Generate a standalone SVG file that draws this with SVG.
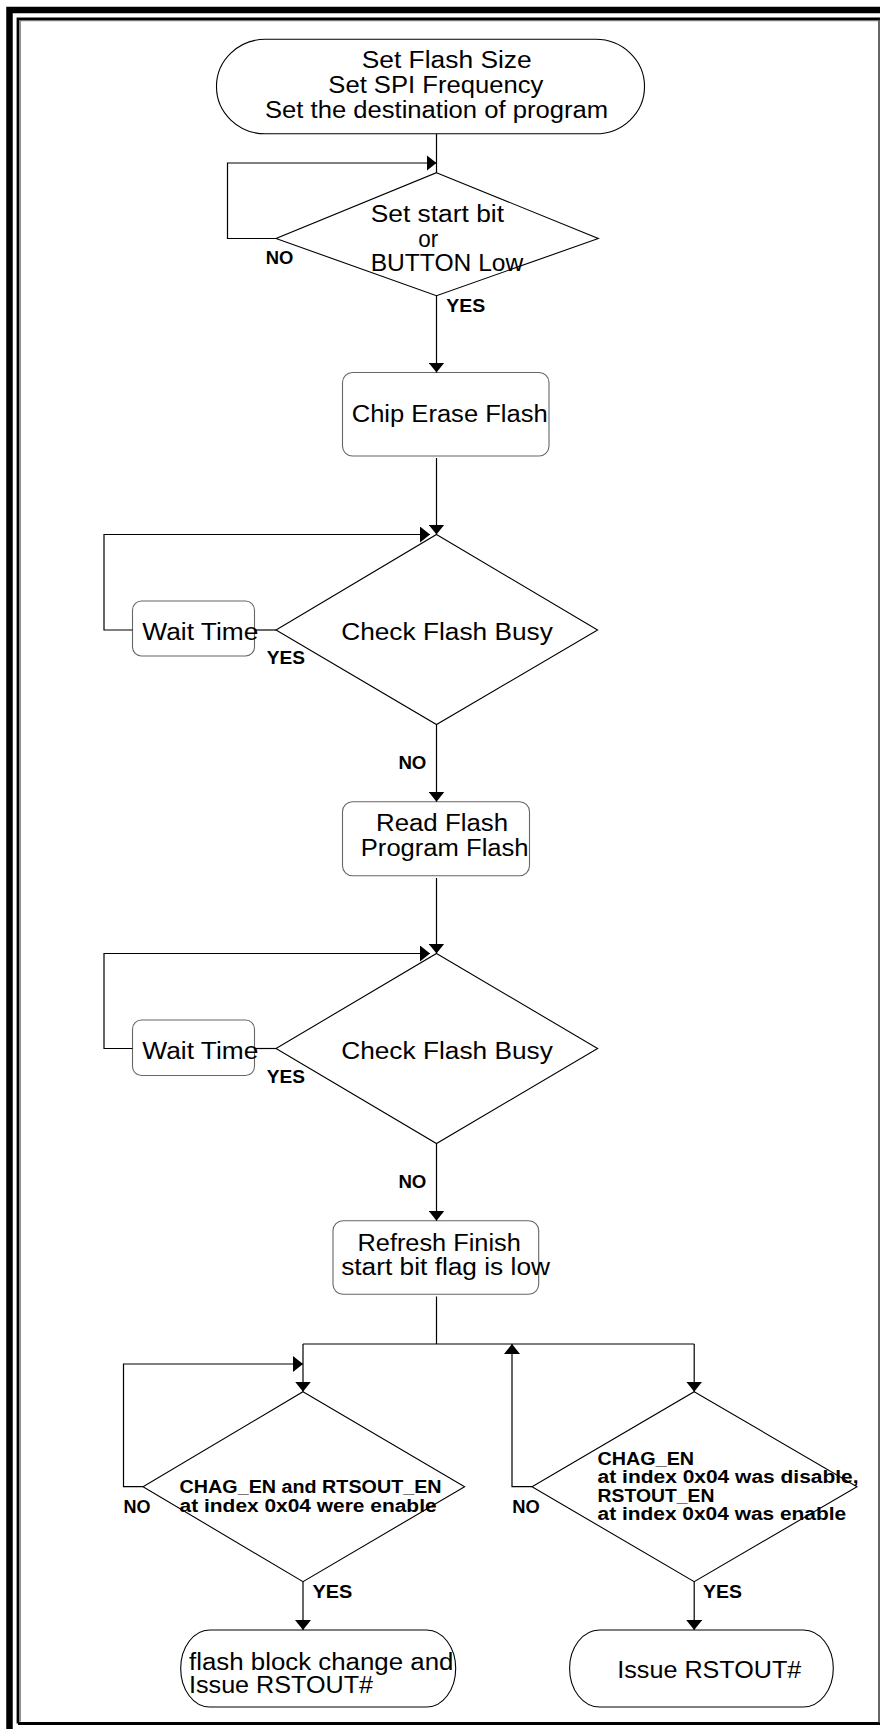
<svg xmlns="http://www.w3.org/2000/svg" width="880" height="1729" viewBox="0 0 880 1729">
<style>
.t{font-family:"Liberation Sans",Arial,sans-serif;font-size:23px;fill:#000}
.b{font-family:"Liberation Sans",Arial,sans-serif;font-weight:bold;font-size:17.5px;fill:#000}
.s{font-family:"Liberation Sans",Arial,sans-serif;font-weight:bold;font-size:18px;fill:#000}
.sh{fill:#fff;stroke:#000;stroke-width:1.1}
.bx{fill:#fff;stroke:#666;stroke-width:1.1}
.ln{fill:none;stroke:#000;stroke-width:1.2}
</style>
<defs>
<marker id="arr" viewBox="0 0 10 16" markerWidth="10" markerHeight="16" refX="10" refY="8" orient="auto" markerUnits="userSpaceOnUse">
<path d="M0,0 L10,8 L0,16 Z" fill="#000"/>
</marker>
</defs>
<rect x="0" y="0" width="880" height="1729" fill="#fff"/>
<g id="frame">
<rect x="9.5" y="10" width="900" height="1760" fill="none" stroke="#000" stroke-width="6.5"/>
<path d="M18,1723.5 V18.8 H880 M18,1723.5 H880" fill="none" stroke="#000" stroke-width="2.8"/>
<path d="M20.2,1721.5 V20.6 H878" fill="none" stroke="#777" stroke-width="1.2"/>
<path d="M879,19.5 V1723" fill="none" stroke="#333" stroke-width="1.5"/>
</g>
<g id="n_start">
<rect class="sh" x="216.5" y="39.3" width="428" height="94.5" rx="49" ry="47"/>
<text class="t" x="361.7" y="68.3" textLength="170" lengthAdjust="spacingAndGlyphs">Set Flash Size</text>
<text class="t" x="328.3" y="93.3" textLength="215" lengthAdjust="spacingAndGlyphs">Set SPI Frequency</text>
<text class="t" x="265" y="118.3" textLength="343" lengthAdjust="spacingAndGlyphs">Set the destination of program</text>
</g>
<g id="n_d1">
<polygon class="sh" points="436.5,172.7 598.3,238.5 436.5,295.7 276,238.5"/>
<text class="t" x="370.7" y="221.7" textLength="133.3" lengthAdjust="spacingAndGlyphs">Set start bit</text>
<text class="t" x="418.3" y="246.7" textLength="20" lengthAdjust="spacingAndGlyphs">or</text>
<text class="t" x="370.7" y="270.7" textLength="152.6" lengthAdjust="spacingAndGlyphs">BUTTON Low</text>
</g>
<g id="n_chip">
<rect class="bx" x="342.5" y="372.5" width="206.5" height="83.5" rx="10"/>
<text class="t" x="351.7" y="421.7" textLength="196" lengthAdjust="spacingAndGlyphs">Chip Erase Flash</text>
</g>
<g id="n_d2">
<polygon class="sh" points="436.5,534.5 597.6,630 436.5,724.5 276,630"/>
<text class="t" x="341.2" y="639.5" textLength="211.6" lengthAdjust="spacingAndGlyphs">Check Flash Busy</text>
</g>
<g id="n_wait1">
<rect class="bx" x="132.5" y="601" width="122" height="55" rx="9"/>
<text class="t" x="142.3" y="640" textLength="116" lengthAdjust="spacingAndGlyphs">Wait Time</text>
</g>
<g id="n_read">
<rect class="bx" x="342.5" y="801.7" width="187" height="74" rx="10"/>
<text class="t" x="376" y="830.7" textLength="132" lengthAdjust="spacingAndGlyphs">Read Flash</text>
<text class="t" x="360.8" y="856" textLength="167.8" lengthAdjust="spacingAndGlyphs">Program Flash</text>
</g>
<g id="n_d3">
<polygon class="sh" points="436.5,953.5 597.6,1048.5 436.5,1143.5 276,1048.5"/>
<text class="t" x="341.2" y="1058.5" textLength="211.6" lengthAdjust="spacingAndGlyphs">Check Flash Busy</text>
</g>
<g id="n_wait2">
<rect class="bx" x="132.5" y="1020" width="122" height="55.5" rx="9"/>
<text class="t" x="142.3" y="1059" textLength="116" lengthAdjust="spacingAndGlyphs">Wait Time</text>
</g>
<g id="n_refresh">
<rect class="bx" x="333" y="1220.7" width="205.7" height="73.5" rx="10"/>
<text class="t" x="357.5" y="1250.7" textLength="163.3" lengthAdjust="spacingAndGlyphs">Refresh Finish</text>
<text class="t" x="341.2" y="1275" textLength="208.8" lengthAdjust="spacingAndGlyphs">start bit flag is low</text>
</g>
<g id="n_dL">
<polygon class="sh" points="303,1391.7 464.6,1486.7 303,1581.7 143,1486.7"/>
<text class="s" x="179.6" y="1493" textLength="262" lengthAdjust="spacingAndGlyphs">CHAG_EN and RTSOUT_EN</text>
<text class="s" x="179.6" y="1511.5" textLength="257" lengthAdjust="spacingAndGlyphs">at index 0x04 were enable</text>
</g>
<g id="n_dR">
<polygon class="sh" points="694.2,1391.7 857,1486.7 694.2,1581.7 532,1486.7"/>
<text class="s" x="597.6" y="1465" textLength="96.5" lengthAdjust="spacingAndGlyphs">CHAG_EN</text>
<text class="s" x="597.6" y="1483.3" textLength="261" lengthAdjust="spacingAndGlyphs">at index 0x04 was disable,</text>
<text class="s" x="597.6" y="1501.7" textLength="116.8" lengthAdjust="spacingAndGlyphs">RSTOUT_EN</text>
<text class="s" x="597.6" y="1520" textLength="248.6" lengthAdjust="spacingAndGlyphs">at index 0x04 was enable</text>
</g>
<g id="n_endL">
<rect class="sh" x="180.7" y="1630" width="275" height="77" rx="29" ry="38.5"/>
<text class="t" x="189" y="1670" textLength="264.4" lengthAdjust="spacingAndGlyphs">flash block change and</text>
<text class="t" x="189" y="1693.3" textLength="184" lengthAdjust="spacingAndGlyphs">Issue RSTOUT#</text>
</g>
<g id="n_endR">
<rect class="sh" x="569.6" y="1630" width="263.7" height="77" rx="30" ry="38.5"/>
<text class="t" x="617.3" y="1678.3" textLength="184" lengthAdjust="spacingAndGlyphs">Issue RSTOUT#</text>
</g>
<g id="connectors">
<path class="ln" d="M436.5,134 V172.7"/>
<path class="ln" d="M276,238.5 H227.5 V163 H436.5" marker-end="url(#arr)"/>
<path class="ln" d="M436.5,295.7 V372.5" marker-end="url(#arr)"/>
<path class="ln" d="M436.5,458 V534.5" marker-end="url(#arr)"/>
<path class="ln" d="M276,630 H254.5"/>
<path class="ln" d="M132.5,630 H104 V534.5 H430" marker-end="url(#arr)"/>
<path class="ln" d="M436.5,724.5 V801.7" marker-end="url(#arr)"/>
<path class="ln" d="M436.5,878 V953.5" marker-end="url(#arr)"/>
<path class="ln" d="M276,1048.5 H254.5"/>
<path class="ln" d="M132.5,1048.5 H104 V953.5 H430" marker-end="url(#arr)"/>
<path class="ln" d="M436.5,1143.5 V1220.7" marker-end="url(#arr)"/>
<path class="ln" d="M436.5,1296.5 V1344 M303,1344 H694.2"/>
<path class="ln" d="M303,1344 V1391.7" marker-end="url(#arr)"/>
<path class="ln" d="M694.2,1344 V1391.7" marker-end="url(#arr)"/>
<path class="ln" d="M143,1486.7 H123.5 V1364 H303" marker-end="url(#arr)"/>
<path class="ln" d="M532,1486.7 H512 V1344" marker-end="url(#arr)"/>
<path class="ln" d="M303,1581.7 V1630" marker-end="url(#arr)"/>
<path class="ln" d="M694.2,1581.7 V1630" marker-end="url(#arr)"/>
</g>
<g id="labels">
<text class="b" x="265.7" y="264" textLength="27.6" lengthAdjust="spacingAndGlyphs">NO</text>
<text class="b" x="446.3" y="311.7" textLength="39" lengthAdjust="spacingAndGlyphs">YES</text>
<text class="b" x="266.7" y="664" textLength="38.3" lengthAdjust="spacingAndGlyphs">YES</text>
<text class="b" x="398.4" y="769" textLength="28" lengthAdjust="spacingAndGlyphs">NO</text>
<text class="b" x="266.7" y="1083" textLength="38.3" lengthAdjust="spacingAndGlyphs">YES</text>
<text class="b" x="398.4" y="1188" textLength="28" lengthAdjust="spacingAndGlyphs">NO</text>
<text class="b" x="123.5" y="1512.7" textLength="27" lengthAdjust="spacingAndGlyphs">NO</text>
<text class="b" x="512.3" y="1512.7" textLength="27.5" lengthAdjust="spacingAndGlyphs">NO</text>
<text class="b" x="312.6" y="1597.7" textLength="39.8" lengthAdjust="spacingAndGlyphs">YES</text>
<text class="b" x="703" y="1597.7" textLength="38.9" lengthAdjust="spacingAndGlyphs">YES</text>
</g>
</svg>
